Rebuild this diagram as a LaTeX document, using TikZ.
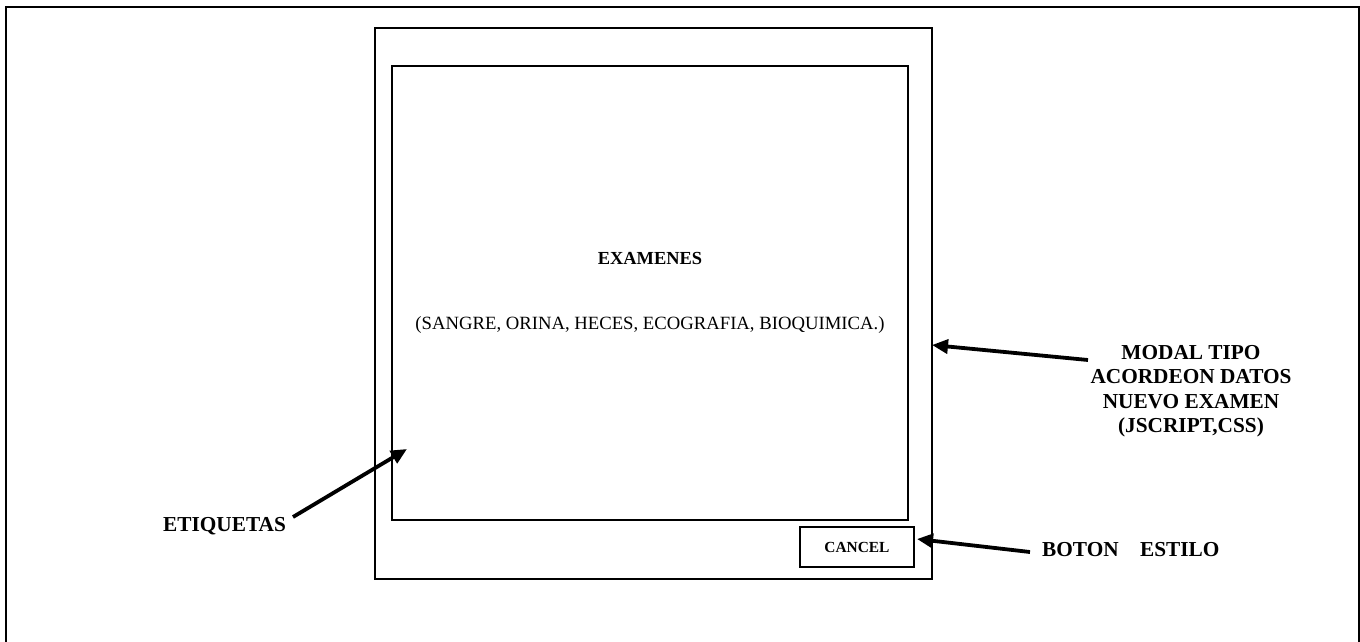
\documentclass[tikz,border=0pt]{standalone}
\usepackage{fontspec}
\setmainfont{Liberation Serif}
\usetikzlibrary{arrows.meta}
\begin{document}
\begin{tikzpicture}[x=1pt,y=-1pt,
  frame/.style={draw=black,line width=2pt},
  lbl/.style={font=\fontsize{21.3}{24.5}\selectfont\bfseries,align=center,inner sep=0pt},
  pointer/.style={line width=3.8pt,-{Triangle[length=16pt,width=14pt]}}]
\useasboundingbox (0,0) rectangle (1360,641);
\begin{scope}
\clip (0,0) rectangle (1360,641);
% page frame (its bottom runs past the sheet)
\draw[frame] (6,7) rectangle (1358.5,700);
\end{scope}
% modal window, content panel and cancel button
\node[frame,minimum width=557pt,minimum height=551pt,inner sep=0pt] (modal) at (653,303) {};
\node[frame,minimum width=516pt,minimum height=454pt,inner sep=0pt] (panel) at (650,293) {};
\node[frame,minimum width=114pt,minimum height=40pt,inner sep=0pt,
  font=\fontsize{15.4}{17}\selectfont\bfseries] (cancel) at (857,547) {CANCEL};
% panel contents
\node[font=\fontsize{18.4}{20}\selectfont\bfseries,inner sep=0pt] (title) at (650,258) {EXAMENES};
\node[font=\fontsize{18.7}{20}\selectfont,inner sep=0pt] (list) at (650,325) {(SANGRE, ORINA, HECES, ECOGRAFIA, BIOQUIMICA.)};
% callouts
\node[lbl] (modallbl) at (1191,391) {MODAL TIPO\\ACORDEON DATOS\\NUEVO EXAMEN\\(JSCRIPT,CSS)};
\node[lbl,anchor=west] (botonlbl) at (1042,550) {BOTON\hspace{1em}ESTILO};
\node[lbl,anchor=west] (etiqlbl) at (163,526) {ETIQUETAS};
\coordinate (modaltip) at (932,345);
\coordinate (modaltail) at (1088,360);
\coordinate (etiqtip) at (407,449);
\coordinate (etiqtail) at (293,517);
\coordinate (botontip) at (917,539);
\coordinate (botontail) at (1030,552);
\draw[pointer] (modaltail) -- (modaltip);
\draw[pointer] (etiqtail) -- (etiqtip);
\draw[pointer] (botontail) -- (botontip);
\end{tikzpicture}
\end{document}
